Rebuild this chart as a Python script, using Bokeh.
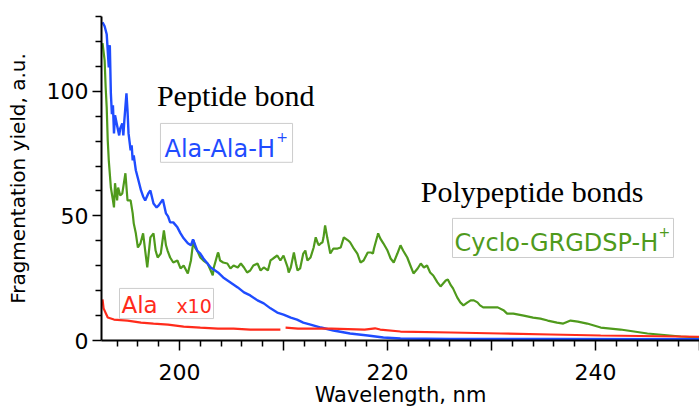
from bokeh.plotting import figure
from bokeh.models import FixedTicker, Label, BoxAnnotation, Range1d
from bokeh.embed import file_html
from bokeh.resources import INLINE

nan = float("nan")

# ---- data (wavelength nm, fragmentation yield a.u.) ----
blue_x = [192.6, 192.8, 193.0, 193.2, 193.3, 193.4, 193.5, 193.6, 193.7, 193.8,
          194.0, 194.2, 194.3, 194.5, 194.6, 194.7, 194.9, 195.0, 195.1, 195.3,
          195.4, 195.5, 195.6, 195.8, 196.0, 196.3, 196.5, 196.7, 197.0, 197.2,
          197.5, 197.8, 198.0, 198.4, 198.7, 198.9, 199.1, 199.4, 199.8, 200.1,
          200.4, 200.8, 201.1, 201.3, 201.7, 202.0, 202.3, 203.0, 203.7, 204.2,
          204.9, 205.6, 206.2, 206.8, 207.5, 208.1, 208.75, 209.4, 210.0, 210.7,
          211.3, 211.9, 212.6, 213.6, 214.8, 216.4, 218.1, 219.6, 221.25, 226.1,
          235.7, 250.0]
blue_y = [127.7, 126.1, 122.9, 109.6, 118.5, 99.2, 90.8, 94.4, 83.1, 90.4,
          86.3, 82.3, 85.1, 87.1, 82.3, 88.4, 99.2, 92.4, 83.1, 76.3,
          78.3, 72.3, 74.3, 68.3, 65.1, 60.2, 57.8, 56.2, 59.0, 60.2,
          55.0, 53.4, 54.2, 56.6, 51.0, 49.8, 47.4, 47.4, 45.4, 43.0,
          41.0, 39.0, 38.2, 40.6, 36.1, 34.9, 32.9, 29.3, 27.3, 25.3,
          23.3, 21.3, 19.3, 18.1, 16.1, 14.9, 12.9, 11.2, 10.4, 9.2,
          8.4, 7.2, 6.4, 5.2, 4.0, 2.8, 2.0, 1.2, 0.8, 0.6,
          0.6, 0.5]

green_x = [192.6, 192.8, 192.9, 193.0, 193.1, 193.2, 193.4, 193.6, 193.7, 193.8,
           194.0, 194.1, 194.3, 194.5, 194.8, 195.0, 195.3, 195.5, 195.6, 195.8,
           196.0, 196.25, 196.5, 196.7, 196.9, 197.2, 197.5, 197.7, 197.9, 198.2,
           198.5, 198.7, 198.85, 199.1, 199.4, 199.8, 200.1, 200.4, 200.8, 201.1,
           201.25, 201.35, 201.5, 201.7, 202.0, 202.3, 202.7, 203.0, 203.2, 203.3,
           203.7, 203.75, 203.9, 204.2, 204.6, 204.9, 205.2, 205.6, 205.9, 206.2,
           206.5, 206.8, 207.1, 207.5, 207.8, 208.1, 208.5, 208.75, 209.0, 209.4,
           209.7, 210.0, 210.4, 210.5, 210.7, 211.0, 211.2, 211.35, 211.6, 211.9,
           212.1, 212.3, 212.6, 212.9, 213.1, 213.3, 213.4, 213.6, 213.75, 213.85,
           214.0, 214.2, 214.5, 214.8, 215.2, 215.5, 215.8, 216.2, 216.4, 216.7,
           217.1, 217.4, 217.7, 218.1, 218.4, 218.6, 218.7, 219.05, 219.1, 219.3,
           219.6, 220.0, 220.3, 220.6, 220.95, 221.25, 221.5, 221.9, 222.2, 222.5,
           222.9, 223.2, 223.5, 223.8, 224.1, 224.4, 224.8, 225.1, 225.6, 225.8,
           226.1, 226.3, 226.7, 227.0, 227.3, 227.7, 228.0, 228.3, 228.65, 228.9,
           229.2, 229.9, 230.6, 231.2, 231.5, 232.1, 233.1, 234.0, 234.7, 235.4,
           236.3, 236.9, 237.6, 238.3, 239.2, 240.5, 242.4, 245.0, 248.2, 250.0]
green_y = [119.3, 112.4, 101.6, 93.6, 80.3, 72.3, 61.4, 56.2, 53.4, 63.1,
           56.2, 61.4, 58.2, 59.0, 67.1, 56.2, 56.2, 51.0, 47.0, 43.0,
           37.3, 39.0, 43.0, 36.1, 29.3, 41.4, 43.0, 36.1, 33.3, 34.9,
           44.2, 38.2, 36.1, 33.3, 31.3, 32.1, 28.9, 30.1, 26.9, 32.1,
           37.3, 40.2, 37.3, 36.1, 33.3, 32.1, 30.9, 28.1, 26.1, 29.3,
           35.3, 34.9, 32.1, 31.3, 30.9, 28.9, 30.1, 29.3, 30.9, 29.3,
           27.3, 28.1, 30.1, 30.9, 28.1, 29.3, 28.1, 32.1, 32.9, 34.1,
           32.1, 34.1, 29.3, 27.3, 29.3, 35.3, 30.9, 28.1, 28.9, 34.9,
           36.1, 32.1, 33.3, 37.3, 41.4, 39.0, 38.2, 39.0, 39.4, 41.4,
           46.2, 41.4, 34.9, 36.9, 36.9, 37.3, 41.4, 40.2, 39.4, 37.3,
           34.9, 31.3, 32.1, 35.3, 35.3, 34.9, 36.9, 42.2, 43.0, 41.0,
           39.0, 36.1, 32.9, 31.3, 34.9, 38.2, 36.1, 33.3, 30.1, 26.9,
           28.9, 30.9, 29.3, 30.1, 27.3, 26.1, 23.3, 21.7, 24.1, 24.5,
           22.1, 20.9, 17.3, 15.3, 14.1, 15.3, 16.1, 16.1, 15.3, 14.1,
           13.3, 13.3, 13.3, 12.0, 10.8, 10.8, 10.0, 9.2, 8.8, 8.0,
           7.2, 6.8, 8.0, 7.6, 6.8, 5.2, 4.4, 2.8, 1.6, 1.2]

red_x = [192.6, 192.7, 193.1, 193.7, 195.0, 196.3, 197.5, 198.9, 200.4, 202.0,
         203.7, 205.2, 206.8, 208.4, 209.7, nan, 210.2, 211.4, 214.6, 217.8,
         218.8, 219.3, 221.25, 226.1, 230.9, 235.7, 240.5, 250.0]
red_y = [16.5, 12.9, 9.2, 8.4, 8.0, 7.2, 6.8, 6.4, 5.6, 5.2,
         4.8, 4.8, 4.4, 4.4, 4.4, nan, 5.2, 4.8, 4.8, 4.4,
         4.9, 4.4, 3.6, 3.2, 2.8, 2.4, 2.0, 1.5]

x_major_ticks = [200, 210, 220, 230, 240, 250]
x_minor_ticks = [194, 196, 198, 202, 204, 206, 208, 212, 214, 216, 218,
                 222, 224, 226, 228, 232, 234, 236, 238, 242, 244, 246, 248]
x_tick_labels = {200: "200", 210: "", 220: "220", 230: "", 240: "240", 250: ""}
y_major_ticks = [0, 50, 100]
y_minor_ticks = [10, 20, 30, 40, 60, 70, 80, 90, 110, 120, 130]

BLUE = "#1f4cff"
GREEN = "#4f9a1c"
RED = "#ff2b1b"

p = figure(width=699, height=409, output_backend="svg", toolbar_location=None,
           x_range=Range1d(192.5, 250), y_range=Range1d(0, 130),
           min_border_left=101, min_border_right=0, min_border_top=16,
           min_border_bottom=69)
p.outline_line_color = None
p.grid.grid_line_color = None
p.background_fill_color = "white"
p.border_fill_color = "white"

p.line(green_x, green_y, line_color=GREEN, line_width=2.2)
p.line(blue_x, blue_y, line_color=BLUE, line_width=2.4)
p.line(red_x, red_y, line_color=RED, line_width=2.2)

xa = p.xaxis[0]
xa.ticker = FixedTicker(ticks=x_major_ticks, minor_ticks=x_minor_ticks)
xa.major_label_overrides = x_tick_labels
xa.axis_label = "Wavelength, nm"
ya = p.yaxis[0]
ya.ticker = FixedTicker(ticks=y_major_ticks, minor_ticks=y_minor_ticks)
ya.axis_label = "Fragmentation yield, a.u."

for ax in (xa, ya):
    ax.axis_line_color = "black"
    ax.axis_line_width = 2
    ax.major_tick_line_color = "black"
    ax.minor_tick_line_color = "black"
    ax.major_tick_line_width = 1.5
    ax.minor_tick_line_width = 1.5
    ax.major_tick_in = 0
    ax.minor_tick_in = 0
    ax.minor_tick_out = 6
    ax.major_label_text_font = "DejaVu Sans"
    ax.major_label_text_font_size = "22px"
    ax.major_label_text_color = "black"
    ax.axis_label_text_font = "DejaVu Sans"
    ax.axis_label_text_font_style = "normal"
    ax.axis_label_text_color = "black"

xa.major_tick_out = 10
xa.major_label_standoff = 13
xa.major_label_text_line_height = 0.8
xa.axis_label_text_font_size = "21px"
xa.axis_label_text_line_height = 0.8
xa.axis_label_standoff = 0
ya.major_tick_out = 9
ya.major_label_standoff = 4
ya.axis_label_text_font_size = "20px"
ya.axis_label_standoff = 14

box_style = dict(fill_color="white", fill_alpha=1, line_color="#cccccc",
                 line_alpha=1, line_width=1)
p.add_layout(BoxAnnotation(left=198.17, right=210.87, bottom=71.5, top=87.1, **box_style))
p.add_layout(BoxAnnotation(left=226.25, right=247.5, bottom=33.3, top=49.0, **box_style))
p.add_layout(BoxAnnotation(left=194.23, right=203.27, bottom=8.8, top=20.9, **box_style))

def add_text(x, y, text, size, color, font="DejaVu Sans", align="left"):
    p.add_layout(Label(x=x, y=y, text=text, text_align=align,
                       text_baseline="alphabetic", text_font=font,
                       text_font_size=size, text_color=color))

add_text(205.4, 98.4, "Peptide bond", "30px", "black", "Liberation Serif", "center")
add_text(233.9, 59.8, "Polypeptide bonds", "30px", "black", "Liberation Serif", "center")
add_text(198.56, 76.7, "Ala-Ala-H", "24px", BLUE)
add_text(209.3, 81.7, "+", "14px", BLUE)
add_text(226.44, 39.0, "Cyclo-GRGDSP-H", "24px", GREEN)
add_text(246.05, 43.5, "+", "14px", GREEN)
add_text(194.42, 14.1, "Ala", "23px", RED)
add_text(199.7, 13.7, "x10", "19px", RED)

open("out.html", "w").write(file_html(p, INLINE))
